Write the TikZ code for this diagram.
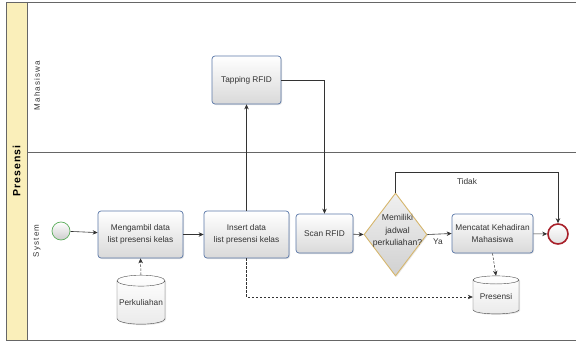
\documentclass[tikz,border=0pt]{standalone}
\usepackage{fontspec}
\setmainfont{Liberation Sans}
\newfontfamily\lanefont[LetterSpace=15]{Liberation Sans}
\newfontfamily\poolfont[LetterSpace=10]{Liberation Sans Bold}
\usetikzlibrary{shapes.geometric,arrows.meta,shadows,calc}
\definecolor{boxborder}{HTML}{5B78A8}
\definecolor{txt}{HTML}{333333}
\definecolor{poolfill}{HTML}{FAEFBA}
\definecolor{laneline}{HTML}{666666}
\definecolor{diaborder}{HTML}{D6B66C}
\definecolor{startgreen}{HTML}{5DAE5D}
\definecolor{endred}{HTML}{A8202A}
\tikzset{
  task/.style={draw=boxborder, line width=0.7pt, rounded corners=3pt, top color=white, bottom color=black!15,
    shading angle=0, text=txt, align=center, font=\fontsize{8.3}{12.5}\selectfont,
    drop shadow={opacity=0.25, shadow xshift=1pt, shadow yshift=-1pt}, inner sep=1pt},
  store/.style={draw=black!70, cylinder, shape border rotate=90, aspect=0.25,
    top color=white, bottom color=black!8, text=txt, font=\fontsize{8.3}{10}\selectfont,
    inner sep=0pt, drop shadow={opacity=0.2, shadow xshift=1pt, shadow yshift=-1pt}},
  flow/.style={draw=black!80, line width=0.6pt, -{Stealth[length=5pt,width=4.5pt]}},
  assoc/.style={draw=black!80, line width=0.5pt, dashed, dash pattern=on 2.5pt off 1.5pt, -{Stealth[length=5pt,width=4.5pt]}},
  lbl/.style={text=txt, font=\fontsize{8.3}{10}\selectfont},
}
\begin{document}
\begin{tikzpicture}[x=1pt,y=-1pt]
\useasboundingbox (0,0) rectangle (576,345);
% pool and lanes
\fill[poolfill] (6,2) rectangle (27,340);
\draw[laneline, line width=0.8pt] (576,2) -- (6,2) -- (6,340) -- (576,340);
\draw[laneline, line width=0.6pt] (27,2) -- (27,340);
\draw[laneline, line width=0.9pt] (27,152) -- (576,152);
\node[rotate=90, font=\poolfont\fontsize{10.5}{12}\selectfont] (pool) at (16.5,171) {Presensi};
\node[rotate=90, text=txt, font=\lanefont\fontsize{8}{10}\selectfont] (lane1) at (37,85.5) {Mahasiswa};
\node[rotate=90, text=txt, font=\lanefont\fontsize{8}{10}\selectfont] (lane2) at (37,241) {System};
% nodes
\node[circle, draw=startgreen, line width=0.7pt, top color=white, bottom color=black!20,
  minimum size=18pt, inner sep=0pt] (start) at (61,231) {};
\node[task, minimum width=85pt, minimum height=47pt] (m1) at (140.5,234.5) {Mengambil data\\list presensi kelas};
\node[task, minimum width=85pt, minimum height=47pt] (m2) at (246.5,234.5) {Insert data\\list presensi kelas};
\node[task, minimum width=69pt, minimum height=48pt] (tap) at (246.5,80) {Tapping RFID};
\node[task, minimum width=57pt, minimum height=39pt] (scan) at (324.5,233.5) {Scan RFID};
\node[diamond, draw=diaborder, line width=0.9pt, top color=black!6, bottom color=black!18,
  minimum width=63pt, minimum height=83pt, inner sep=0pt,
  drop shadow={opacity=0.2, shadow xshift=1pt, shadow yshift=-1pt}] (dec) at (395.5,234.5) {};
\node[lbl, align=center, font=\fontsize{8.6}{12.5}\selectfont] (dectext) at (397.5,231) {Memiliki\\jadwal\\perkuliahan?};
\node[task, minimum width=81pt, minimum height=39pt] (mc) at (492.5,233.5) {Mencatat Kehadiran\\Mahasiswa};
\node[circle, draw=endred, line width=1.6pt, top color=white, bottom color=black!12,
  minimum size=20pt, inner sep=0pt] (end) at (558,234) {};
\node[store, minimum width=48pt, minimum height=49pt] (perk) at (141,302.5) {Perkuliahan};
\node[store, minimum width=46pt, minimum height=38pt] (pres) at (496,297) {Presensi};
% flows
\draw[flow] (start) -- (m1);
\draw[flow] (m1) -- (m2);
\draw[flow] (m2.north) -- (tap.south);
\draw[flow] (tap.east) -| (scan.north);
\draw[flow] (scan) -- (dec.west);
\draw[flow] (dec.east) -- (mc.west);
\node[lbl] (ya) at (438,242) {Ya};
\draw[flow] (mc) -- (end);
\draw[flow] (dec.north) -- ++(0,-20) -| (end.north);
\node[lbl] (tidak) at (467,182) {Tidak};
% associations
\draw[assoc] (perk.90) -- (m1.south);
\draw[assoc] (mc.south) -- (pres.90);
\draw[assoc] (m2.south) |- (pres.180);
\end{tikzpicture}
\end{document}
